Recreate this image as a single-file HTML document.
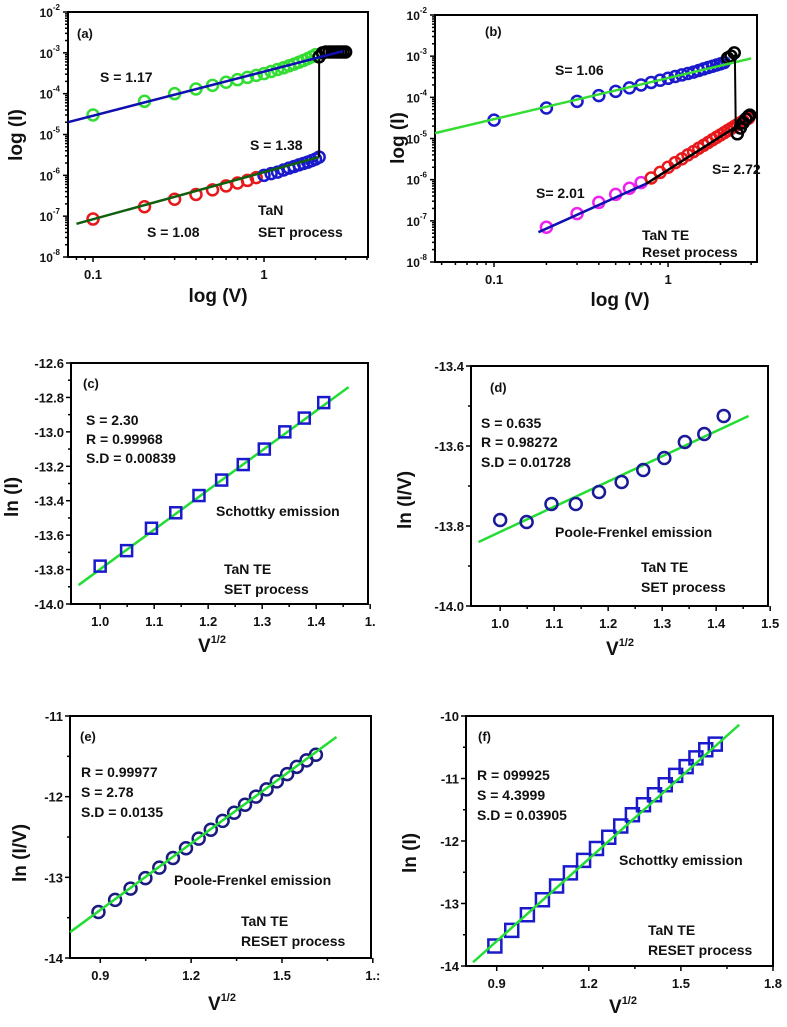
<!DOCTYPE html>
<html><head><meta charset="utf-8"><style>
html,body{margin:0;padding:0;background:#fff}
svg{display:block;font-family:"Liberation Sans",Arial,sans-serif;font-weight:bold}
</style></head><body>
<svg id="fig" width="787" height="1027" viewBox="0 0 787 1027" xmlns="http://www.w3.org/2000/svg"></svg>
<script>
// ---- data ----
const aGreenV=[0.1,0.2,0.3,0.4,0.5,0.6,0.7,0.8,0.9,1.0,1.1,1.2,1.3,1.4,1.5,1.6,1.7,1.8,1.9,2.0];
const aGreenI=[3e-5,6.5e-5,1e-4,1.3e-4,1.6e-4,1.9e-4,2.2e-4,2.5e-4,2.8e-4,3.1e-4,3.5e-4,3.9e-4,4.3e-4,4.8e-4,5.3e-4,5.9e-4,6.5e-4,7.2e-4,8e-4,9e-4];
const aBlackV=[2.1,2.2,2.3,2.4,2.5,2.6,2.7,2.8,2.9,3.0];
const aBlackI=[8e-4,1e-3,1.05e-3,1.05e-3,1.05e-3,1.05e-3,1.05e-3,1.05e-3,1.05e-3,1.05e-3];
const aRedV=[0.1,0.2,0.3,0.4,0.5,0.6,0.7,0.8,0.9];
const aRedI=[8.5e-8,1.7e-7,2.6e-7,3.4e-7,4.4e-7,5.5e-7,6.5e-7,7.5e-7,8.8e-7];
const aBlueV=[1.0,1.1,1.2,1.3,1.4,1.5,1.6,1.7,1.8,1.9,2.0,2.1];
const aBlueI=[1e-6,1.1e-6,1.2e-6,1.35e-6,1.5e-6,1.65e-6,1.8e-6,1.95e-6,2.1e-6,2.3e-6,2.5e-6,2.8e-6];
const bBlueV=[0.1,0.2,0.3,0.4,0.5,0.6,0.7,0.8,0.9,1.0,1.1,1.2,1.3,1.4,1.5,1.6,1.7,1.8,1.9,2.0,2.1];
const bBlueI=[2.8e-5,5.5e-5,8e-5,1.1e-4,1.4e-4,1.7e-4,2e-4,2.3e-4,2.6e-4,2.9e-4,3.2e-4,3.5e-4,3.8e-4,4.1e-4,4.5e-4,4.9e-4,5.3e-4,5.7e-4,6.1e-4,6.5e-4,7e-4];
const bBlackV=[2.2,2.3,2.4];
const bBlackI=[9e-4,1e-3,1.2e-3];
const bBlack2V=[2.5,2.6,2.7,2.8,2.9,2.95];
const bBlack2I=[1.3e-5,1.8e-5,2.4e-5,3e-5,3.5e-5,3.7e-5];
const bMagV=[0.2,0.3,0.4,0.5,0.6,0.7];
const bMagI=[7e-8,1.5e-7,2.8e-7,4.4e-7,6.2e-7,8.5e-7];
const bRedV=[0.8,0.9,1.0,1.1,1.2,1.3,1.4,1.5,1.6,1.7,1.8,1.9,2.0,2.1,2.2,2.3,2.4,2.5,2.6,2.7,2.8,2.9];
const bRedI=[1.1e-6,1.5e-6,2e-6,2.6e-6,3.2e-6,4e-6,4.8e-6,5.8e-6,6.8e-6,8e-6,9.3e-6,1.07e-5,1.22e-5,1.38e-5,1.56e-5,1.75e-5,1.95e-5,2.17e-5,2.4e-5,2.65e-5,2.9e-5,3.1e-5];
const cX=[1.0,1.049,1.095,1.140,1.183,1.225,1.265,1.304,1.342,1.378,1.414];
const cY=[-13.78,-13.69,-13.56,-13.47,-13.37,-13.28,-13.19,-13.10,-13.00,-12.92,-12.83];
const dX=[1.0,1.049,1.095,1.140,1.183,1.225,1.265,1.304,1.342,1.378,1.414];
const dY=[-13.785,-13.79,-13.745,-13.745,-13.715,-13.69,-13.66,-13.63,-13.59,-13.57,-13.525];
const eX=[0.894,0.949,1.0,1.049,1.095,1.140,1.183,1.225,1.265,1.304,1.342,1.378,1.414,1.449,1.483,1.517,1.549,1.581,1.612];
const eY=[-13.43,-13.28,-13.14,-13.01,-12.88,-12.76,-12.64,-12.52,-12.41,-12.30,-12.20,-12.10,-12.00,-11.91,-11.81,-11.72,-11.63,-11.55,-11.48];
const fX=[0.894,0.949,1.0,1.049,1.095,1.140,1.183,1.225,1.265,1.304,1.342,1.378,1.414,1.449,1.483,1.517,1.549,1.581,1.612];
const fY=[-13.68,-13.43,-13.18,-12.94,-12.72,-12.51,-12.31,-12.12,-11.94,-11.76,-11.58,-11.42,-11.26,-11.10,-10.95,-10.81,-10.67,-10.54,-10.45];
const cTicksX=[1.0,1.1,1.2,1.3,1.4,1.5], cTickLblX=["1.0","1.1","1.2","1.3","1.4","1."];
const cTicksY=[-14.0,-13.8,-13.6,-13.4,-13.2,-13.0,-12.8,-12.6];
const dTicksX=[1.0,1.1,1.2,1.3,1.4,1.5], dTickLblX=["1.0","1.1","1.2","1.3","1.4","1.5"];
const dTicksY=[-14.0,-13.8,-13.6,-13.4];
const eTicksX=[0.9,1.2,1.5,1.8], eTickLblX=["0.9","1.2","1.5","1.:"];
const eTicksY=[-14,-13,-12,-11];
const fTicksX=[0.9,1.2,1.5,1.8], fTickLblX=["0.9","1.2","1.5","1.8"];
const fTicksY=[-14,-13,-12,-11,-10];

const NS="http://www.w3.org/2000/svg";
const svg=document.getElementById('fig');
function mk(tag,attrs,parent){const e=document.createElementNS(NS,tag);for(const k in attrs)e.setAttribute(k,attrs[k]);(parent||svg).appendChild(e);return e;}
function txt(x,y,s,size,name,parent,anchor){const t=mk('text',{x:x,y:y,'font-size':size,'text-anchor':anchor||'start',fill:'#111'},parent);t.textContent=s;


return t;}

function panel(id,box,xr,yr,xlog,ylog){
  const g=mk('g',{});
  
  
  const [L,T,R,B]=box;
  const fx=v=>{const u=xlog?Math.log10(v):v;return L+(u-xr[0])/(xr[1]-xr[0])*(R-L);};
  const fy=v=>{const u=ylog?Math.log10(v):v;return B-(u-yr[0])/(yr[1]-yr[0])*(B-T);};
  return {g,fx,fy,L,T,R,B};
}
function frame(p){const r=mk('rect',{x:p.L,y:p.T,width:p.R-p.L,height:p.B-p.T,fill:'none',stroke:'#000','stroke-width':2},p.g);

}
function tick(p,x1,y1,x2,y2){mk('line',{x1:x1,y1:y1,x2:x2,y2:y2,stroke:'#000','stroke-width':1.5},p.g);}
function fitline(p,x0,y0,x1,y1,col,name){const l=mk('line',{x1:p.fx(x0),y1:p.fy(y0),x2:p.fx(x1),y2:p.fy(y1),stroke:col,'stroke-width':2.5},p.g);

}
function circles(p,xs,ys,col,name,r){xs.forEach((x,i)=>{const c=mk('circle',{cx:p.fx(x),cy:p.fy(ys[i]),r:r||5.5,fill:'none',stroke:col,'stroke-width':2.5},p.g);

});}
function squares(p,xs,ys,col,name,s){xs.forEach((x,i)=>{const q=mk('rect',{x:p.fx(x)-s,y:p.fy(ys[i])-s,width:2*s,height:2*s,fill:'none',stroke:col,'stroke-width':2.5},p.g);

});}
function ylabel(p,x,y,s){const t=mk('text',{transform:`translate(${x},${y}) rotate(-90)`,'font-size':19,'text-anchor':'middle',fill:'#111'},p.g);t.textContent=s;

}
function xlabel(p,x,y,s,sup){const t=mk('text',{x:x,y:y,'font-size':19,'text-anchor':'middle',fill:'#111'},p.g);t.textContent=s;
if(sup){const ts=mk('tspan',{'font-size':11,dy:-9},t);ts.textContent=sup;}

}

function logAxes(p,xdec,xlbls){
  frame(p);
  for(let d=-8;d<=-2;d++){const y=p.fy(Math.pow(10,d));tick(p,p.L-5,y,p.L,y);
    const t=mk('text',{x:p.L-8,y:y+5,'font-size':12,'text-anchor':'end',fill:'#111'},p.g);t.textContent='10';
    const s=mk('tspan',{'font-size':8,dy:-7},t);s.textContent=String(d);
    
    
    if(d<-2)for(let m=2;m<10;m++){const yy=p.fy(m*Math.pow(10,d));tick(p,p.L-3,yy,p.L,yy);}}
  xdec.forEach((v,i)=>{const x=p.fx(v);tick(p,x,p.B,x,p.B+5);txt(x,p.B+22,xlbls[i],13,'x-tick-label',p.g,'middle');});
  [0.05,0.06,0.07,0.08,0.09,0.2,0.3,0.4,0.5,0.6,0.7,0.8,0.9,2,3,4].forEach(v=>{const x=p.fx(v);if(x>=p.L&&x<=p.R)tick(p,x,p.B,x,p.B+3);});
}
function linAxes(p,tx,tl,ty,dec){
  frame(p);
  tx.forEach((v,i)=>{const x=p.fx(v);tick(p,x,p.B,x,p.B+5);txt(x,p.B+22,tl[i],13,'x-tick-label',p.g,'middle');
    if(i<tx.length-1){const xm=p.fx((v+tx[i+1])/2);tick(p,xm,p.B,xm,p.B+3);}});
  ty.forEach((v,i)=>{const y=p.fy(v);tick(p,p.L-5,y,p.L,y);txt(p.L-7,y+5,v.toFixed(dec),13,'y-tick-label',p.g,'end');
    if(i<ty.length-1){const ym=p.fy((v+ty[i+1])/2);tick(p,p.L-3,ym,p.L,ym);}});
}

// ---- panel a ----
{const p=panel('a',[68,12,368,257],[Math.log10(0.0714),0.608],[-8,-2],true,true);
logAxes(p,[0.1,1],["0.1","1"]);
circles(p,aRedV,aRedI,'#e8191b','red-circles');
circles(p,aBlueV,aBlueI,'#1a1acc','blue-circles');
circles(p,aGreenV,aGreenI,'#33dd33','green-circles');
circles(p,aBlackV,aBlackI,'#000','black-circles');
fitline(p,0.0714,2e-5,2.9,1.1e-3,'#1010b0','fit-line-upper');
fitline(p,0.08,6.5e-8,2.1,2.8e-6,'#106010','fit-line-lower');
const vx=p.fx(2.1);mk('line',{x1:vx,y1:p.fy(2.8e-6),x2:vx,y2:p.fy(7e-4),stroke:'#000','stroke-width':2},p.g);
txt(77,38,'(a)',13,'panel-label',p.g);
txt(100,82,'S = 1.17',14,'slope-label',p.g);
txt(250,150,'S = 1.38',14,'slope-label',p.g);
txt(147,237,'S = 1.08',14,'slope-label',p.g);
txt(258,215,'TaN',14,'annotation',p.g);
txt(258,237,'SET process',14,'annotation',p.g);
ylabel(p,22,135,'log (I)');xlabel(p,218,302,'log (V)');}

// ---- panel b ----
{const p=panel('b',[435,15,757,262],[Math.log10(0.0458),0.511],[-8,-2],true,true);
logAxes(p,[0.1,1],["0.1","1"]);
circles(p,bBlueV,bBlueI,'#1a1acc','blue-circles');
circles(p,bMagV,bMagI,'#ee22ee','magenta-circles');
circles(p,bRedV,bRedI,'#e8191b','red-circles');
circles(p,bBlackV,bBlackI,'#000','black-circles');
circles(p,bBlack2V,bBlack2I,'#000','black-circles');
fitline(p,0.0458,1.35e-5,3.0,8.8e-4,'#33dd33','fit-line-upper');
fitline(p,0.18,5.3e-8,0.75,8e-7,'#1010b0','fit-line-low');
fitline(p,0.75,8e-7,2.9,3e-5,'#000','fit-line-high');
mk('line',{x1:p.fx(2.42),y1:p.fy(1.1e-3),x2:p.fx(2.45),y2:p.fy(1.5e-5),stroke:'#000','stroke-width':2},p.g);
txt(485,36,'(b)',13,'panel-label',p.g);
txt(555,75,'S= 1.06',14,'slope-label',p.g);
txt(712,174,'S= 2.72',14,'slope-label',p.g);
txt(536,198,'S= 2.01',14,'slope-label',p.g);
txt(642,240,'TaN TE',14,'annotation',p.g);
txt(642,257,'Reset process',14,'annotation',p.g);
ylabel(p,404,138,'log (I)');xlabel(p,620,306,'log (V)');}

// ---- panel c ----
{const p=panel('c',[71,363,368,604],[0.946,1.496],[-14,-12.6],false,false);
linAxes(p,cTicksX,cTickLblX,cTicksY,1);
fitline(p,0.96,-13.89,1.46,-12.74,'#22dd33','fit-line');
squares(p,cX,cY,'#1a1acc','data-squares',5.5);
txt(83,388,'(c)',13,'panel-label',p.g);
txt(86,425,'S = 2.30',14,'stat-label',p.g);
txt(86,444,'R = 0.99968',14,'stat-label',p.g);
txt(86,463,'S.D = 0.00839',14,'stat-label',p.g);
txt(216,516,'Schottky emission',14,'annotation',p.g);
txt(224,574,'TaN TE',14,'annotation',p.g);
txt(224,594,'SET process',14,'annotation',p.g);
ylabel(p,18,497,'ln (I)');xlabel(p,212,652,'V','1/2');}

// ---- panel d ----
{const p=panel('d',[471,366,768,606],[0.946,1.496],[-14,-13.4],false,false);
linAxes(p,dTicksX,dTickLblX,dTicksY,1);
fitline(p,0.96,-13.84,1.46,-13.525,'#22dd33','fit-line');
circles(p,dX,dY,'#1a1a99','data-circles',6);
txt(490,392,'(d)',13,'panel-label',p.g);
txt(481,428,'S = 0.635',14,'stat-label',p.g);
txt(481,447,'R = 0.98272',14,'stat-label',p.g);
txt(481,467,'S.D = 0.01728',14,'stat-label',p.g);
txt(555,537,'Poole-Frenkel emission',14,'annotation',p.g);
txt(641,572,'TaN TE',14,'annotation',p.g);
txt(641,592,'SET process',14,'annotation',p.g);
ylabel(p,411,500,'ln (I/V)');xlabel(p,620,655,'V','1/2');}

// ---- panel e ----
{const p=panel('e',[70,716,371,958],[0.8,1.794],[-14,-11],false,false);
linAxes(p,eTicksX,eTickLblX,eTicksY,0);
circles(p,eX,eY,'#1a1a80','data-circles',6);
fitline(p,0.8,-13.68,1.68,-11.26,'#22dd33','fit-line');
txt(80,741,'(e)',13,'panel-label',p.g);
txt(81,777,'R = 0.99977',14,'stat-label',p.g);
txt(81,797,'S = 2.78',14,'stat-label',p.g);
txt(81,817,'S.D = 0.0135',14,'stat-label',p.g);
txt(174,885,'Poole-Frenkel emission',14,'annotation',p.g);
txt(241,926,'TaN TE',14,'annotation',p.g);
txt(241,946,'RESET process',14,'annotation',p.g);
ylabel(p,26,853,'ln (I/V)');xlabel(p,222,1010,'V','1/2');}

// ---- panel f ----
{const p=panel('f',[466,716,773,966],[0.8,1.8],[-14,-10],false,false);
linAxes(p,fTicksX,fTickLblX,fTicksY,0);
squares(p,fX,fY,'#1a1acc','data-squares',6.5);
fitline(p,0.823,-13.94,1.69,-10.14,'#22dd33','fit-line');
txt(478,741,'(f)',13,'panel-label',p.g);
txt(477,780,'R = 099925',14,'stat-label',p.g);
txt(477,800,'S = 4.3999',14,'stat-label',p.g);
txt(477,820,'S.D = 0.03905',14,'stat-label',p.g);
txt(619,865,'Schottky emission',14,'annotation',p.g);
txt(648,935,'TaN TE',14,'annotation',p.g);
txt(648,955,'RESET process',14,'annotation',p.g);
ylabel(p,416,853,'ln (I)');xlabel(p,623,1013,'V','1/2');}
</script>
</body></html>
